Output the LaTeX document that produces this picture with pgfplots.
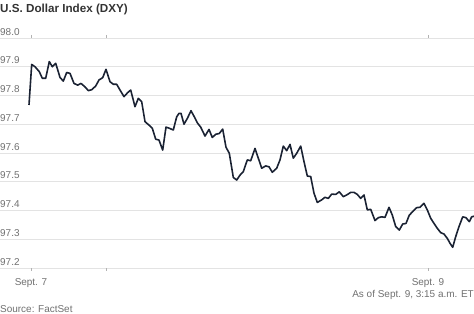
\documentclass[border=0pt]{standalone}
\usepackage{pgfplots}
\pgfplotsset{compat=1.18}
\usepackage{fontspec}
\setmainfont{Liberation Sans}
\definecolor{linec}{HTML}{1A2233}
\definecolor{gridc}{HTML}{E3E3E3}
\definecolor{labc}{HTML}{707070}
\definecolor{titc}{HTML}{333333}
\begin{document}
\begin{tikzpicture}
\begin{axis}[
  name=main,
  scale only axis,
  width=474bp, height=230bp,
  xmin=0, xmax=474,
  ymin=97.2, ymax=98.0,
  axis line style={draw=none},
  ymajorgrids,
  grid style={draw=gridc, line width=0.6pt},
  ytick={97.2,97.3,97.4,97.5,97.6,97.7,97.8,97.9,98.0},
  yticklabel style={anchor=south west, inner sep=0pt, text=labc, font=\fontsize{10}{12}\selectfont, yshift=2.5bp},
  yticklabel shift=-3bp,
  ytick style={draw=none},
  /pgf/number format/.cd, fixed, fixed zerofill, precision=1, assume math mode=true,
  /pgfplots/.cd,
  xtick={31,106,428},
  xticklabels={Sept. 7,,Sept. 9},
  xtick style={draw=gray!60, line width=0.6pt},
  tick align=outside,
  major tick length=3bp,
  xticklabel style={anchor=base, text=labc, font=\fontsize{10}{12}\selectfont, yshift=-15bp},
  clip=false,
]
\addplot[linec, line width=1.6pt, line join=round] coordinates {
(29,97.767) (31.7,97.908) (35,97.900) (39.3,97.883) (42.3,97.860) (45.7,97.860)
(49.3,97.918) (52.3,97.900) (55.7,97.912) (60,97.863) (63.3,97.850) (66.7,97.880)
(70,97.877) (74,97.842) (77.7,97.836) (81,97.842) (85,97.830) (88.3,97.817)
(91.7,97.820) (95.7,97.833) (99,97.854) (102.7,97.862) (106,97.891) (110,97.848)
(113.3,97.839) (116.7,97.839) (120,97.819) (124,97.796) (127.7,97.810) (130.7,97.819)
(135,97.761) (138.3,97.790) (141.7,97.778) (145,97.709) (149,97.697) (152.3,97.686)
(155.7,97.648) (159,97.645) (162.7,97.610) (166,97.690) (169.3,97.686) (173.3,97.680)
(176.7,97.726) (179,97.738) (181,97.738) (184,97.700) (187.3,97.720) (191,97.747)
(194.3,97.726) (197.3,97.705) (200.7,97.690) (205,97.659) (209,97.682) (212.3,97.654)
(215.7,97.665) (219.3,97.668) (222.7,97.683) (226,97.620) (229.3,97.599) (233.3,97.515)
(236.7,97.506) (240,97.523) (243.3,97.535) (247.3,97.576) (250.7,97.573) (255,97.616)
(258.3,97.582) (261.7,97.547) (265.7,97.555) (269,97.552) (272.3,97.533) (276.7,97.547)
(280,97.576) (283.3,97.624) (286.7,97.608) (290,97.630) (293.3,97.582) (296.7,97.599)
(300.7,97.624) (304,97.570) (307.3,97.520) (310.7,97.518) (314,97.460) (317.3,97.428)
(321.7,97.437) (325,97.446) (328.3,97.442) (331.7,97.457) (335.7,97.456) (339.3,97.465)
(343.3,97.448) (346.7,97.454) (350.7,97.463) (354,97.463) (357.3,97.456) (360.7,97.442)
(364,97.454) (367.3,97.402) (370.7,97.404) (375,97.365) (378.3,97.375) (381.7,97.378)
(385,97.376) (389,97.411) (392.3,97.384) (395.7,97.344) (399.3,97.332) (402.7,97.353)
(406,97.355) (409.3,97.384) (412.7,97.396) (416.7,97.410) (420,97.411) (424,97.425)
(427.3,97.402) (430.7,97.373) (434,97.355) (437.3,97.338) (440.7,97.323) (444,97.318)
(447.3,97.303) (450,97.286) (452.7,97.272) (455.7,97.309) (459,97.344) (462.7,97.378)
(466,97.375) (469.3,97.361) (471.7,97.378) (474,97.380)
};
\end{axis}
\node[anchor=base west, inner sep=0pt, text=titc, font=\bfseries\fontsize{11.7}{14}\selectfont] at ([yshift=25bp]main.north west) {U.S. Dollar Index (DXY)};
\node[anchor=base east, inner sep=0pt, text=labc, font=\fontsize{10}{12}\selectfont] at ([yshift=-30bp]main.south east) {As of Sept. 9, 3:15 a.m. ET};
\node[anchor=base west, inner sep=0pt, text=labc, font=\fontsize{10}{12}\selectfont] at ([yshift=-45bp]main.south west) {Source: FactSet};
\pgfresetboundingbox
\path ([yshift=-46bp]main.south west) rectangle ([yshift=38bp]main.north east);
\end{tikzpicture}
\end{document}
